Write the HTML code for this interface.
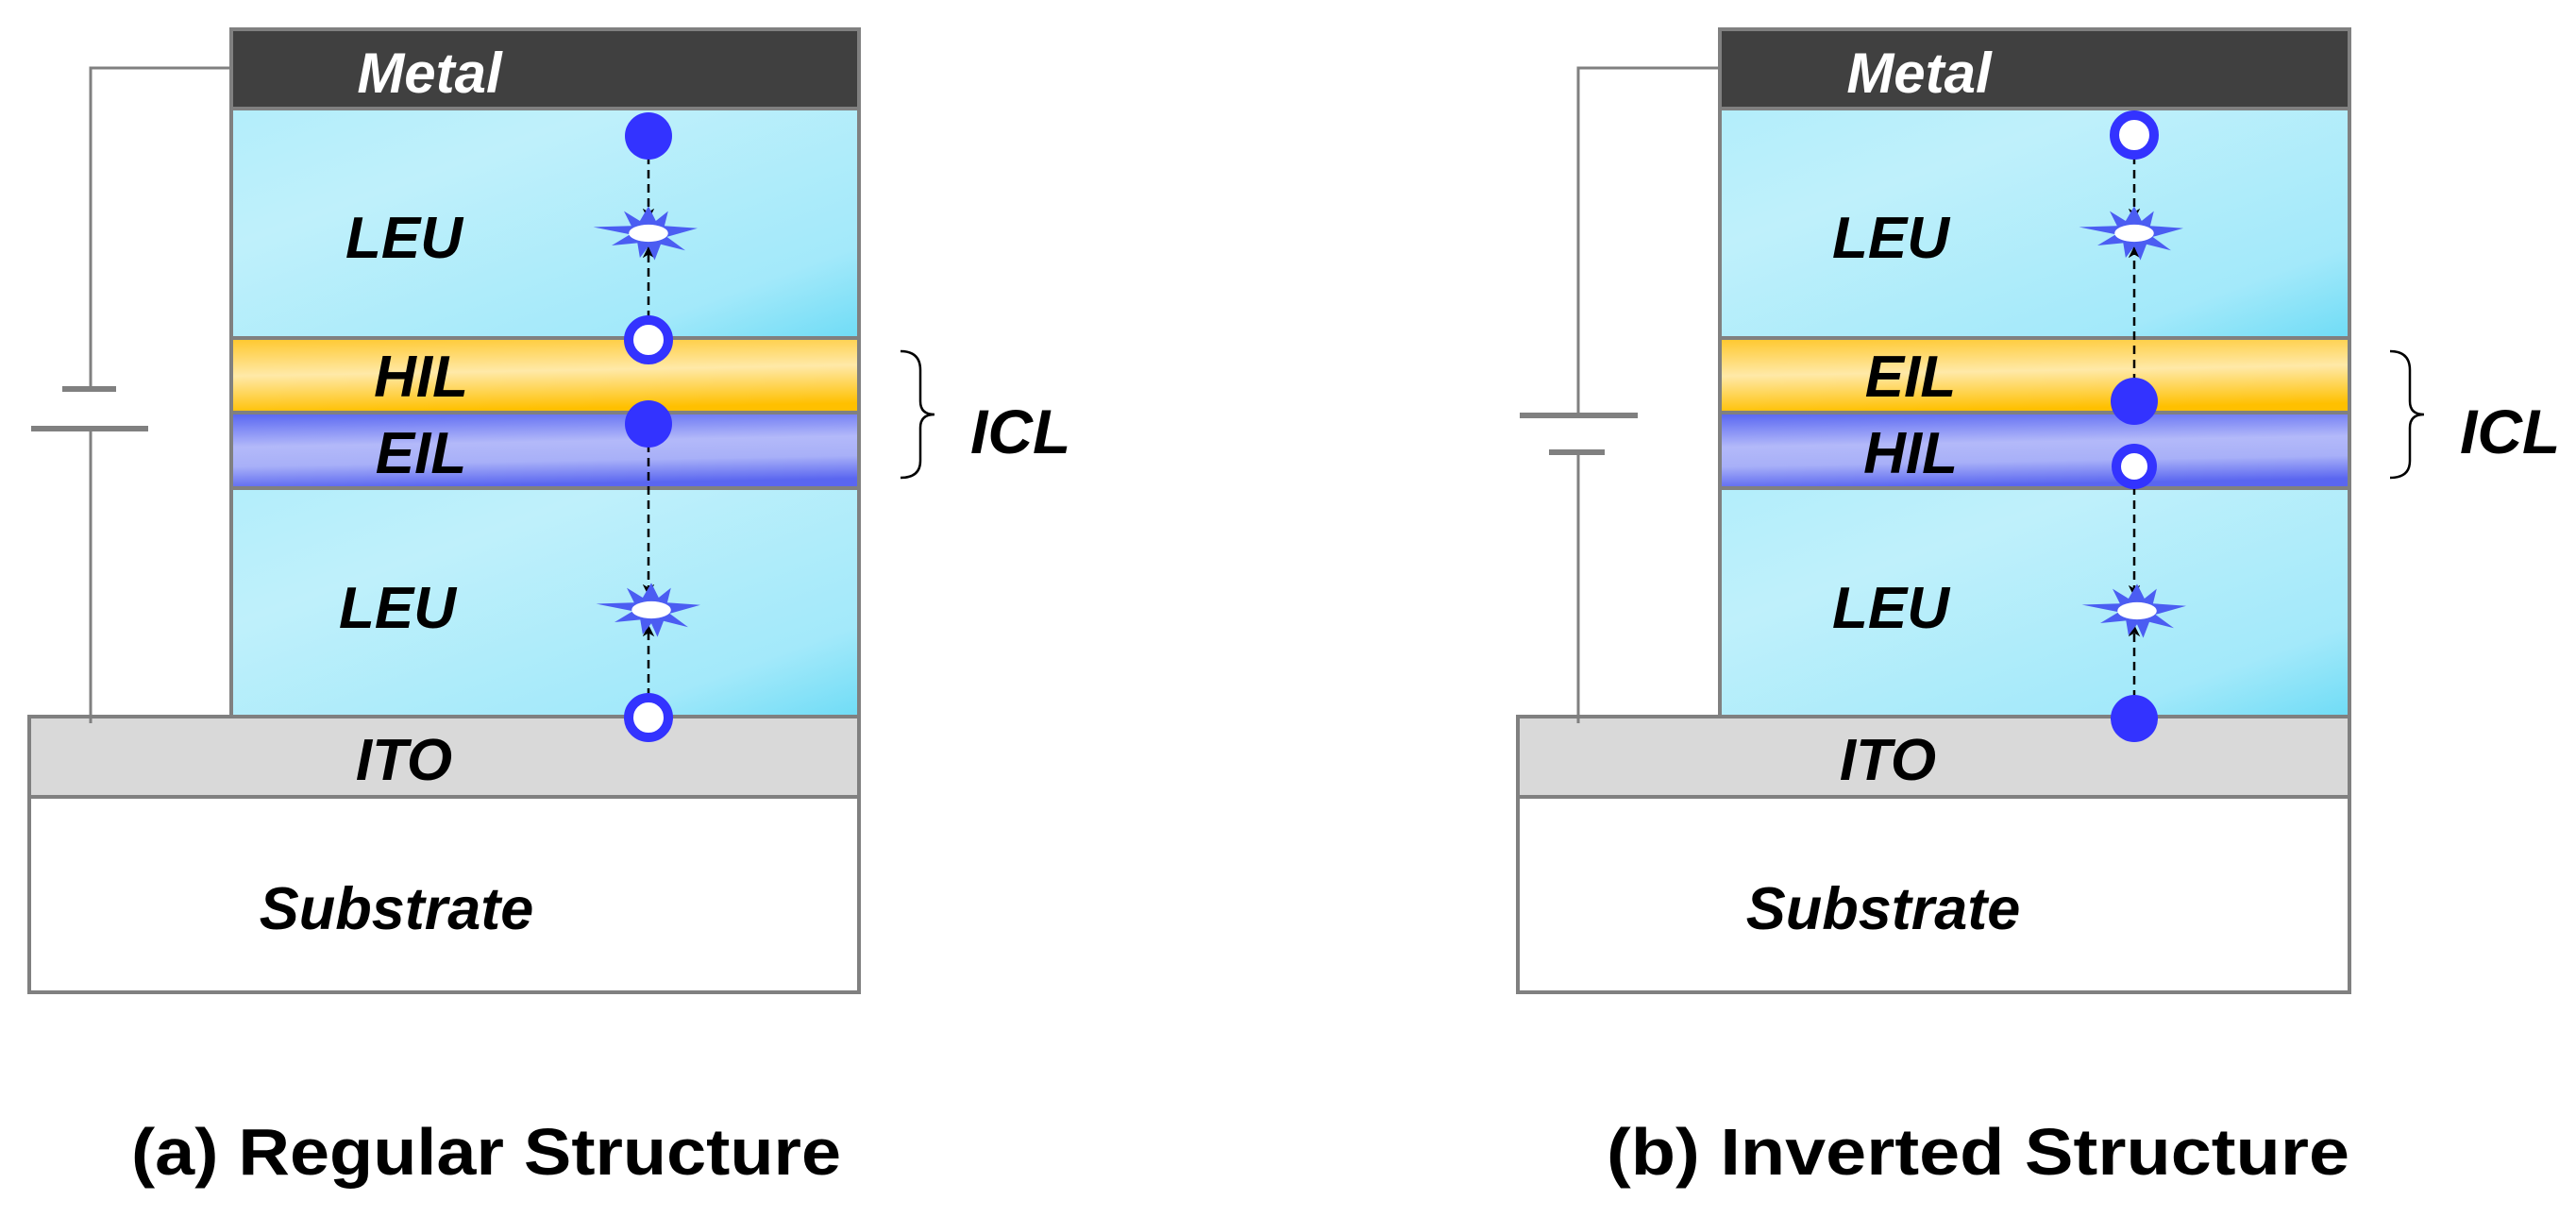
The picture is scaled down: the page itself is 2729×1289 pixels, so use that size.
<!DOCTYPE html>
<html><head><meta charset="utf-8"><style>
html,body{margin:0;padding:0;background:#fff;}
svg{display:block;}
text{font-family:"Liberation Sans",sans-serif;font-weight:bold;font-style:italic;fill:#000;}
</style></head><body>
<svg width="2729" height="1289" viewBox="0 0 2729 1289" xmlns="http://www.w3.org/2000/svg">
<defs>
<linearGradient id="leu" x1="0" y1="0" x2="1" y2="1">
<stop offset="0" stop-color="#b3eefb"/><stop offset="0.3" stop-color="#bff0fb"/><stop offset="0.8" stop-color="#a3e9fa"/><stop offset="1" stop-color="#6fdcf6"/></linearGradient>
<linearGradient id="org" x1="0" y1="0" x2="0.15" y2="1">
<stop offset="0" stop-color="#ffc72a"/><stop offset="0.5" stop-color="#ffe9a8"/><stop offset="1" stop-color="#ffc000"/></linearGradient>
<linearGradient id="blu" x1="0" y1="0" x2="0.15" y2="1">
<stop offset="0" stop-color="#5563f2"/><stop offset="0.45" stop-color="#b3b9f9"/><stop offset="0.7" stop-color="#a8b0f8"/><stop offset="1" stop-color="#5a66f0"/></linearGradient>
<g id="star">
<g transform="scale(1.3)">
<polygon points="0,-22 6,-10 16,-18 13,-6 40,-4 15,3 30,14 10,9 5,22 0,11 -7,20 -9,8 -30,10 -15,1 -45,-5 -14,-6 -20,-18 -7,-10" fill="#4b5df2"/>
<ellipse cx="0" cy="0" rx="16" ry="7" fill="#fff"/>
</g>
</g>
<marker id="ah" viewBox="0 0 10 10" refX="9" refY="5" markerWidth="5" markerHeight="5" orient="auto"><path d="M0,0 L10,5 L0,10 L3,5 z" fill="#000"/></marker>
</defs>

<!-- ===== LEFT ===== -->
<g stroke="#808080" stroke-width="4">
<rect x="245" y="31" width="665" height="84" fill="#404040"/>
<rect x="245" y="115" width="665" height="243" fill="url(#leu)"/>
<rect x="245" y="358" width="665" height="79" fill="url(#org)"/>
<rect x="245" y="437" width="665" height="80" fill="url(#blu)"/>
<rect x="245" y="517" width="665" height="242" fill="url(#leu)"/>
<rect x="31" y="759" width="879" height="85" fill="#d9d9d9"/>
<rect x="31" y="844" width="879" height="207" fill="#fff"/>
</g>
<g stroke="#808080" stroke-width="3" fill="none">
<polyline points="245,72 96,72 96,412"/>
<line x1="96" y1="454" x2="96" y2="766"/>
<line x1="66" y1="412" x2="123" y2="412" stroke-width="6"/>
<line x1="33" y1="454" x2="157" y2="454" stroke-width="6"/>
</g>
<g stroke="#000" stroke-width="2.5" stroke-dasharray="9,6" fill="none">
<line x1="687" y1="165" x2="687" y2="232" marker-end="url(#ah)"/>
<line x1="687" y1="338" x2="687" y2="262" marker-end="url(#ah)"/>
<line x1="687" y1="470" x2="687" y2="630" marker-end="url(#ah)"/>
<line x1="687" y1="738" x2="687" y2="663" marker-end="url(#ah)"/>
</g>
<use href="#star" x="687" y="247"/>
<use href="#star" x="690" y="646"/>
<circle cx="687" cy="144" r="25" fill="#3333ff"/>
<circle cx="687" cy="360" r="21" fill="#fff" stroke="#3333ff" stroke-width="10"/>
<circle cx="687" cy="449" r="25" fill="#3333ff"/>
<circle cx="687" cy="760" r="21" fill="#fff" stroke="#3333ff" stroke-width="10"/>
<path d="M954,372 Q975,372 975,392 L975,425 Q975,439 990,439 Q975,439 975,453 L975,488 Q975,506 954,506" fill="none" stroke="#000" stroke-width="2.5"/>
<text x="1028" y="480" font-size="66">ICL</text>
<text x="455" y="98" font-size="60" style="fill:#fff" text-anchor="middle">Metal</text>
<text x="428" y="273" font-size="62" text-anchor="middle">LEU</text>
<text x="446" y="420" font-size="62" text-anchor="middle">HIL</text>
<text x="446" y="501" font-size="62" text-anchor="middle">EIL</text>
<text x="421" y="665" font-size="62" text-anchor="middle">LEU</text>
<text x="428" y="826" font-size="62" text-anchor="middle">ITO</text>
<text x="420" y="984" font-size="63" text-anchor="middle">Substrate</text>
<text x="139" y="1244" font-size="70" style="font-style:normal" textLength="752" lengthAdjust="spacingAndGlyphs">(a) Regular Structure</text>

<!-- ===== RIGHT ===== -->
<g stroke="#808080" stroke-width="4">
<rect x="1822" y="31" width="667" height="84" fill="#404040"/>
<rect x="1822" y="115" width="667" height="243" fill="url(#leu)"/>
<rect x="1822" y="358" width="667" height="79" fill="url(#org)"/>
<rect x="1822" y="437" width="667" height="80" fill="url(#blu)"/>
<rect x="1822" y="517" width="667" height="242" fill="url(#leu)"/>
<rect x="1608" y="759" width="881" height="85" fill="#d9d9d9"/>
<rect x="1608" y="844" width="881" height="207" fill="#fff"/>
</g>
<g stroke="#808080" stroke-width="3" fill="none">
<polyline points="1822,72 1672,72 1672,440"/>
<line x1="1672" y1="479" x2="1672" y2="766"/>
<line x1="1610" y1="440" x2="1735" y2="440" stroke-width="6"/>
<line x1="1641" y1="479" x2="1700" y2="479" stroke-width="6"/>
</g>
<g stroke="#000" stroke-width="2.5" stroke-dasharray="9,6" fill="none">
<line x1="2261" y1="165" x2="2261" y2="232" marker-end="url(#ah)"/>
<line x1="2261" y1="405" x2="2261" y2="262" marker-end="url(#ah)"/>
<line x1="2261" y1="515" x2="2261" y2="631" marker-end="url(#ah)"/>
<line x1="2261" y1="740" x2="2261" y2="663" marker-end="url(#ah)"/>
</g>
<use href="#star" x="2261" y="247"/>
<use href="#star" x="2264" y="647"/>
<circle cx="2261" cy="143" r="21" fill="#fff" stroke="#3333ff" stroke-width="10"/>
<circle cx="2261" cy="425" r="25" fill="#3333ff"/>
<circle cx="2261" cy="494" r="19" fill="#fff" stroke="#3333ff" stroke-width="10"/>
<circle cx="2261" cy="761" r="25" fill="#3333ff"/>
<path d="M2532,372 Q2553,372 2553,392 L2553,425 Q2553,439 2568,439 Q2553,439 2553,453 L2553,488 Q2553,506 2532,506" fill="none" stroke="#000" stroke-width="2.5"/>
<text x="2606" y="480" font-size="66">ICL</text>
<text x="2033" y="98" font-size="60" style="fill:#fff" text-anchor="middle">Metal</text>
<text x="2003" y="273" font-size="62" text-anchor="middle">LEU</text>
<text x="2024" y="420" font-size="62" text-anchor="middle">EIL</text>
<text x="2024" y="501" font-size="62" text-anchor="middle">HIL</text>
<text x="2003" y="665" font-size="62" text-anchor="middle">LEU</text>
<text x="2000" y="826" font-size="62" text-anchor="middle">ITO</text>
<text x="1995" y="984" font-size="63" text-anchor="middle">Substrate</text>
<text x="1702" y="1244" font-size="70" style="font-style:normal" textLength="787" lengthAdjust="spacingAndGlyphs">(b) Inverted Structure</text>
</svg>
</body></html>
